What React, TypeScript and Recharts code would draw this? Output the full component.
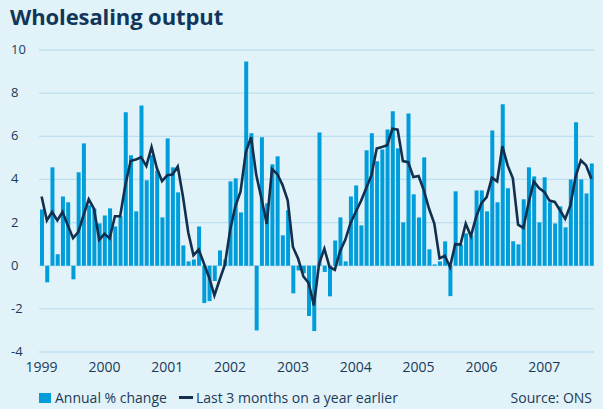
import React from 'react';
import { ComposedChart, Bar, Line, XAxis, YAxis, CartesianGrid } from 'recharts';

// monthly, Jan 1999 - Oct 2007
const years = ['1999', '2000', '2001', '2002', '2003', '2004', '2005', '2006', '2007'];

const annualChange = [
  2.61, -0.77, 4.56, 0.53, 3.21, 2.94, -0.63, 4.33, 5.67, 2.8, 2.65, 1.96,
  2.33, 2.66, 1.82, 2.29, 7.11, 5.12, 2.52, 7.43, 3.96, 5.12, 4.42, 2.24,
  5.9, 4.56, 3.4, 0.94, 0.2, 0.29, 1.82, -1.73, -1.64, -0.71, 0.71, 0.29,
  3.91, 4.05, 2.47, 9.47, 6.14, -3.0, 5.95, 2.89, 4.7, 5.07, 1.41, 2.57,
  -1.28, -0.22, -0.35, -2.33, -3.03, 6.18, -0.29, -1.42, 1.17, 2.24, 0.2, 3.21,
  3.72, 1.87, 5.35, 6.14, 4.84, 5.39, 6.32, 7.16, 5.44, 2.01, 7.06, 3.31,
  2.24, 5.02, 0.76, 0.06, 0.2, 1.13, -1.41, 3.45, 0.97, 1.5, 1.4, 3.49,
  3.49, 2.52, 6.27, 2.94, 7.48, 3.59, 1.13, 0.99, 3.08, 4.56, 4.14, 2.01,
  4.1, 2.94, 1.96, 2.75, 1.78, 4.0, 6.65, 4.0, 3.35, 4.74,
];

const last3Months = [
  3.21, 2.1, 2.49, 2.1, 2.49, 1.87, 1.28, 1.56, 2.33, 3.08, 2.64, 1.2,
  1.48, 1.27, 2.29, 2.29, 3.75, 4.85, 4.92, 5.03, 4.62, 5.5, 4.53, 3.92,
  4.19, 4.23, 4.6, 3.2, 1.55, 0.48, 0.75, 0.1, -0.55, -1.38, -0.65, 0.05,
  1.64, 2.75, 3.44, 5.27, 5.96, 4.2, 3.1, 1.94, 4.48, 4.25, 3.75, 3.03,
  0.87, 0.32, -0.5, -0.8, -1.84, 0.1, 0.79, -0.06, -0.19, 0.67, 1.2, 1.97,
  2.5, 3.0, 3.6, 4.2, 5.43, 5.5, 5.58, 6.35, 6.31, 4.85, 4.8, 4.11,
  4.16, 3.49, 2.64, 1.95, 0.34, 0.46, -0.06, 1.0, 0.98, 1.95, 1.37, 2.28,
  2.9, 3.18, 4.08, 3.91, 5.54, 4.65, 4.05, 1.9, 1.75, 2.9, 3.91, 3.6,
  3.42, 3.02, 2.96, 2.57, 2.17, 2.8, 4.15, 4.88, 4.65, 4.03,
];

const yTicks = [-4, -2, 0, 2, 4, 6, 8, 10];

const data = annualChange.map((v, i) => ({ m: i, annual: v, last3: last3Months[i] }));
const yearTicks = years.map((_, i) => i * 12);

const BAR = '#009ddb';
const LINE = '#122f4e';
const TEXT = '#1b3a5a';
const FONT = '"Open Sans", sans-serif';

const YTick = ({ y, payload }: any) => (
  <text x={11} y={y} dy={4} fontSize={13} fill={TEXT} fontFamily={FONT} textAnchor="start">
    {payload.value}
  </text>
);

export default function App() {
  return (
    <div style={{ position: 'absolute', left: 0, top: 0, width: 603, height: 409, background: '#e1f3f8', overflow: 'hidden' }}>
      <div style={{ position: 'absolute', left: 10, top: 1, fontFamily: FONT, fontWeight: 700, fontSize: 22, color: '#12365a', letterSpacing: -0.1 }}>
        Wholesaling output
      </div>
      <ComposedChart
        width={603}
        height={409}
        data={data}
        barCategoryGap={1}
        margin={{ top: 50, right: 9, bottom: 27, left: 0 }}
      >
        <CartesianGrid vertical={false} stroke="#bddff1" strokeWidth={1.3} />
        <XAxis
          dataKey="m"
          ticks={yearTicks}
          interval={0}
          tickFormatter={(v: number) => years[v / 12]}
          axisLine={false}
          tickLine={false}
          tickSize={0}
          tickMargin={10}
          height={30}
          tick={{ fill: TEXT, fontSize: 14, fontFamily: FONT }}
        />
        <YAxis
          domain={[-4, 10]}
          ticks={yTicks}
          interval={0}
          width={39}
          axisLine={false}
          tickLine={false}
          tick={<YTick />}
        />
        <Bar dataKey="annual" fill={BAR} barSize={4} isAnimationActive={false} />
        <Line
          type="linear"
          dataKey="last3"
          stroke={LINE}
          strokeWidth={2.6}
          dot={false}
          isAnimationActive={false}
        />
      </ComposedChart>
      <div style={{ position: 'absolute', left: 39, top: 388, display: 'flex', alignItems: 'center', fontFamily: FONT, fontSize: 14, color: TEXT }}>
        <span style={{ width: 12, height: 10, background: BAR, display: 'inline-block', marginRight: 4 }} />
        <span>Annual % change</span>
        <span style={{ width: 14, height: 2.5, background: LINE, display: 'inline-block', marginLeft: 12, marginRight: 3 }} />
        <span>Last 3 months on a year earlier</span>
      </div>
      <div style={{ position: 'absolute', right: 11, top: 388, fontFamily: FONT, fontSize: 14, color: TEXT }}>
        Source: ONS
      </div>
    </div>
  );
}
